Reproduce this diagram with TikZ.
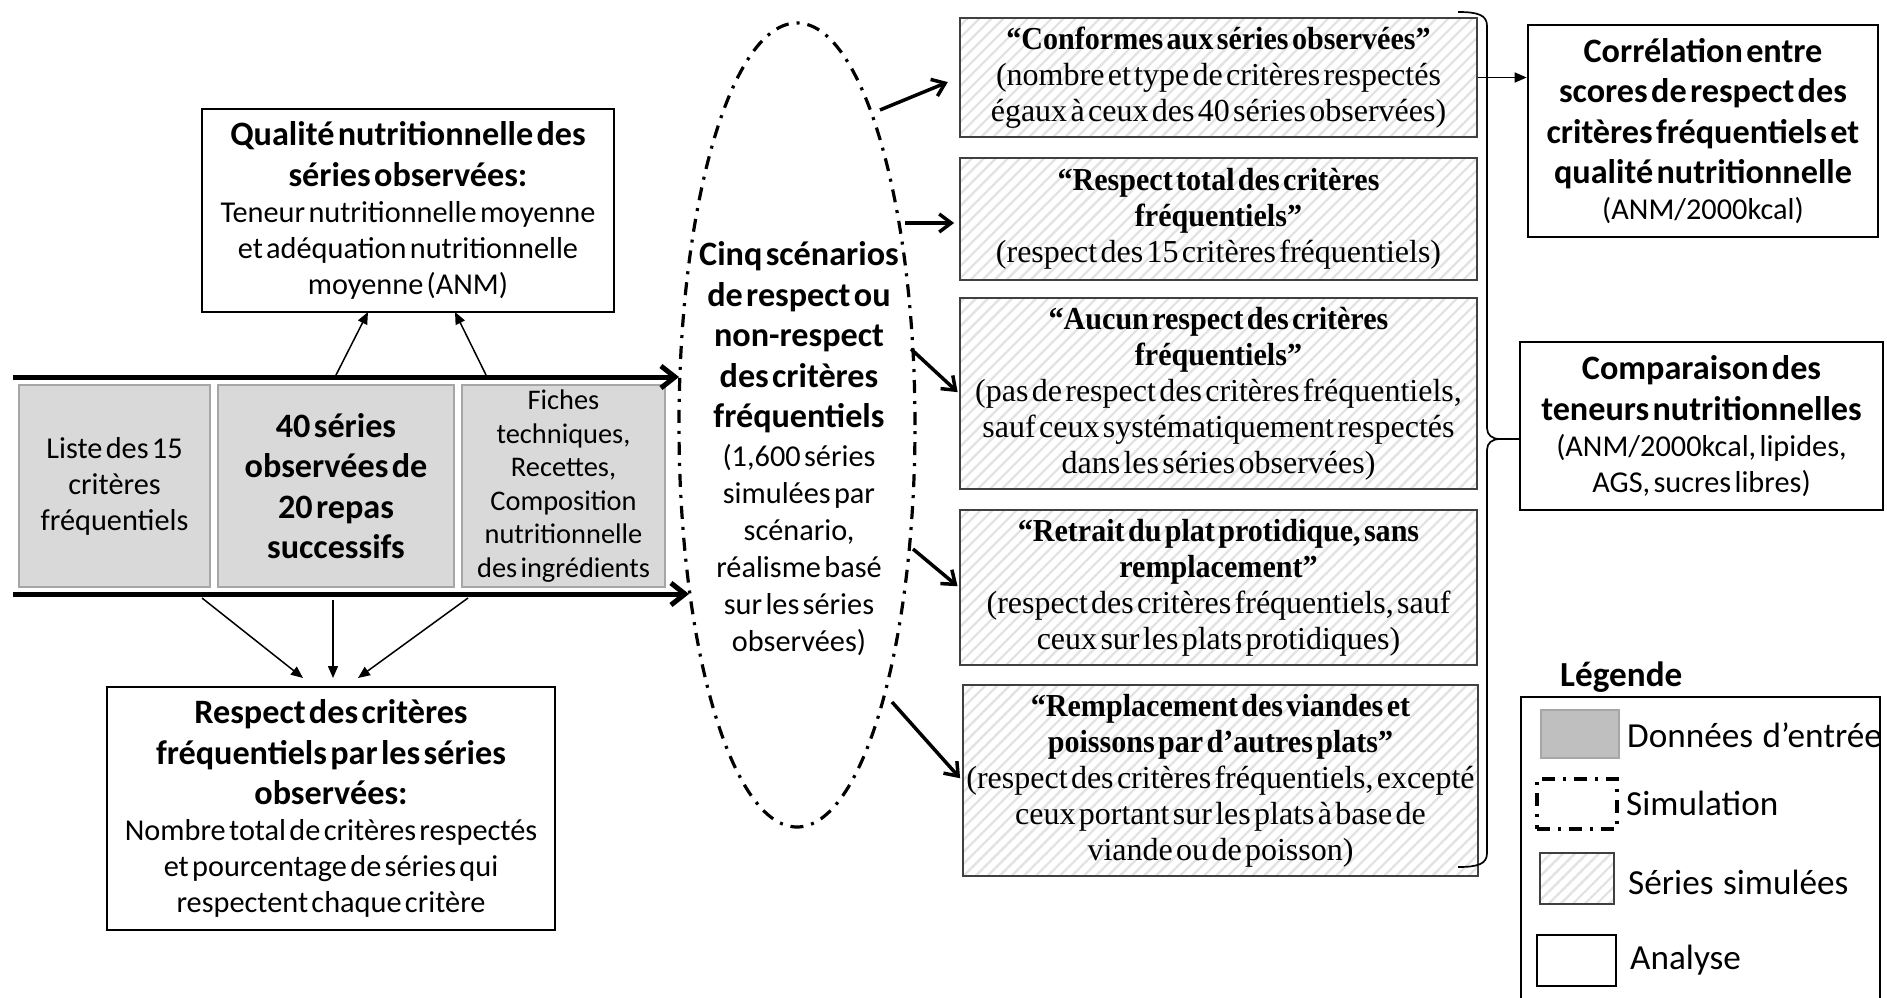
\documentclass[tikz,border=0pt]{standalone}
\usepackage{fontspec}
\setmainfont{Carlito}[WordSpace=1.2]
\newfontfamily\tnr{Liberation Serif}[FakeStretch=0.94]
\newfontfamily\tnrR{Liberation Serif}
\usetikzlibrary{arrows.meta,shapes.geometric,patterns.meta}
\definecolor{infill}{HTML}{D9D9D9}
\definecolor{inborder}{HTML}{A6A6A6}
\definecolor{legfill}{HTML}{BFBFBF}
\definecolor{hatch}{HTML}{E2E2E2}
\definecolor{scborder}{HTML}{404040}
\hyphenpenalty=10000 \exhyphenpenalty=10000
\setlength\parindent{0pt}
\newcommand\fBold{\fontsize{34.2}{40.5}\selectfont\bfseries}
\newcommand\fReg{\fontsize{30.3}{36}\selectfont}
\newcommand\fRegE{\fontsize{30.3}{37}\selectfont}
\newcommand\fSmall{\fontsize{28.4}{33.5}\selectfont}
\newcommand\fTb{\tnr\fontsize{32}{36}\selectfont\bfseries}
\newcommand\fTr{\tnrR\fontsize{32}{36}\selectfont}
\newcommand\fLeg{\fontsize{35.2}{40}\selectfont}
\begin{document}
\begin{tikzpicture}[x=1pt,y=-1pt,
  anbox/.style={draw=black, line width=2.6pt, fill=white, inner sep=0pt, align=center},
  inbox/.style={draw=inborder, fill=infill, line width=1.8pt, inner sep=0pt, align=center},
  scbox/.style={draw=scborder, line width=1.8pt, pattern={Lines[angle=45,distance=8.5pt,line width=2.2pt]}, pattern color=hatch, inner sep=0pt, align=center},
  thickarr/.style={line width=5pt, -{Straight Barb[length=14pt,width=22pt]}},
  scarr/.style={line width=3.5pt, -{Straight Barb[length=12pt,width=18pt]}},
  thinarr/.style={line width=1.5pt, -{Triangle[length=12pt,width=10pt]}},
  simline/.style={line width=3.2pt, dash pattern=on 13pt off 8pt on 3pt off 8pt},
  legtext/.style={anchor=west, inner sep=0pt, font=\fLeg}
]
\useasboundingbox (0,0) rectangle (1887,998);
\fill[white] (0,0) rectangle (1887,998);

% analysis box: quality
\node[anbox, minimum width=412pt, minimum height=203pt, text width=408pt] (qual) at (408,210.5)
 {{\fBold Qualité nutritionnelle des\\séries observées:\par}{\fReg Teneur nutritionnelle moyenne\\et adéquation nutritionnelle\\moyenne (ANM)\par}};

% input boxes
\node[inbox, minimum width=191pt, minimum height=202pt, text width=187pt] (g1) at (114.5,486)
 {{\fReg Liste des 15\\critères\\fréquentiels\par}};
\node[inbox, minimum width=236pt, minimum height=202pt, text width=232pt] (g2) at (336,486)
 {{\fBold 40 séries\\observées de\\20 repas\\successifs\par}};
\node[inbox, minimum width=203pt, minimum height=202pt, text width=200pt] (g3) at (563.5,486)
 {{\fSmall Fiches\\techniques,\\Recettes,\\Composition\\nutritionnelle\\des ingrédients\par}};

% analysis box: respect
\node[anbox, minimum width=448pt, minimum height=243pt, text width=446pt] (resp) at (331,808.5)
 {{\fBold Respect des critères\\fréquentiels par les séries\\observées:\par}{\fReg Nombre total de critères respectés\\et pourcentage de séries qui\\respectent chaque critère\par}};

% simulation ellipse
\node[ellipse, draw, simline, minimum width=236pt, minimum height=804pt, inner sep=0pt] (ell) at (797,425) {};
\node[text width=232pt, align=center, inner sep=0pt] (elltxt) at (799,449)
 {{\fBold Cinq scénarios\\de respect ou\\non-respect\\des critères\\fréquentiels\par}\vspace{2pt}{\fRegE (1,600 séries\\simulées par\\scénario,\\réalisme basé\\sur les séries\\observées)\par}};

% scenario boxes
\node[scbox, minimum width=517pt, minimum height=119pt, text width=513pt] (s1) at (1218.5,77.5)
 {{\fTb “Conformes aux séries observées”\par}{\fTr (nombre et type de critères respectés\\égaux à ceux des 40 séries observées)\par}};
\node[scbox, minimum width=517pt, minimum height=122pt, text width=513pt] (s2) at (1218.5,219)
 {{\fTb “Respect total des critères\\fréquentiels”\par}{\fTr (respect des 15 critères fréquentiels)\par}};
\node[scbox, minimum width=517pt, minimum height=191pt, text width=513pt] (s3) at (1218.5,393.5)
 {{\fTb “Aucun respect des critères\\fréquentiels”\par}{\fTr (pas de respect des critères fréquentiels,\\sauf ceux systématiquement respectés\\dans les séries observées)\par}};
\node[scbox, minimum width=517pt, minimum height=155pt, text width=513pt] (s4) at (1218.5,587.5)
 {{\fTb “Retrait du plat protidique, sans\\remplacement”\par}{\fTr (respect des critères fréquentiels, sauf\\ceux sur les plats protidiques)\par}};
\node[scbox, minimum width=515pt, minimum height=191pt, text width=511pt] (s5) at (1220.5,780.5)
 {{\fTb “Remplacement des viandes et\\poissons par d’autres plats”\par}{\fTr (respect des critères fréquentiels, excepté\\ceux portant sur les plats à base de\\viande ou de poisson)\par}};

% result boxes
\node[anbox, minimum width=350pt, minimum height=212pt, text width=346pt] (corr) at (1703,131)
 {{\fBold Corrélation entre\\scores de respect des\\critères fréquentiels et\\qualité nutritionnelle\par}{\fReg (ANM/2000kcal)\par}};
\node[anbox, minimum width=363pt, minimum height=168pt, text width=359pt] (comp) at (1701.5,426)
 {{\fBold Comparaison des\\teneurs nutritionnelles\par}{\fReg (ANM/2000kcal, lipides,\\AGS, sucres libres)\par}};

% thick arrows into the ellipse
\coordinate (lt) at (13,377);
\coordinate (et) at (679,377);
\coordinate (lb) at (13,594);
\coordinate (eb) at (689,594);
\draw[thickarr] (lt) -- (et);
\draw[thickarr] (lb) -- (eb);

% arrows to quality box
\coordinate (qa1) at (335,377);
\coordinate (qb1) at (368,312);
\coordinate (qa2) at (487,377);
\coordinate (qb2) at (455,312);
\draw[thinarr] (qa1) -- (qb1);
\draw[thinarr] (qa2) -- (qb2);

% arrows to respect box
\coordinate (ra1) at (202,598);
\coordinate (rb1) at (303,678);
\coordinate (ra2) at (333,600);
\coordinate (rb2) at (333,678);
\coordinate (ra3) at (468,598);
\coordinate (rb3) at (358,678);
\draw[thinarr] (ra1) -- (rb1);
\draw[thinarr] (ra2) -- (rb2);
\draw[thinarr] (ra3) -- (rb3);

% arrows from ellipse to scenarios
\coordinate (c1) at (880,110);
\coordinate (c2) at (905,223);
\coordinate (c3) at (911,349);
\coordinate (c4) at (913,549);
\coordinate (c5) at (892,702);
\draw[scarr, shorten >=12pt] (c1) -- (s1.west);
\draw[scarr, shorten >=5pt] (c2) -- (c2 -| s2.west);
\draw[scarr, shorten >=2pt] (c3) -- (s3.west);
\draw[scarr, shorten >=2pt] (c4) -- (s4.west);
\draw[scarr, shorten >=3pt] (c5) -- (s5.west);

% brace
\draw[line width=1.7pt] (1458,12) .. controls (1478,12) and (1487,15) .. (1487,26) -- (1487,428)
  .. controls (1487,435) and (1492,439) .. (1500,439)
  .. controls (1492,439) and (1487,443) .. (1487,450) -- (1487,853)
  .. controls (1487,864) and (1478,867) .. (1458,867);
\coordinate (btip) at (1500,439);
\draw[line width=1.7pt] (btip) -- (btip -| comp.west);

% arrow to correlation
\draw[thinarr] (s1.east) -- (s1.east -| corr.west);

% legend
\node[anchor=west, inner sep=0pt, font=\fLeg\bfseries] (legt) at (1560,677) {Légende};
\draw[line width=1.6pt] (1521,1005) -- (1521,697) -- (1880,697) -- (1880,1005);
\node[draw=inborder, fill=legfill, line width=1.5pt, minimum width=78pt, minimum height=48pt, inner sep=0pt] (lg1) at (1580,734) {};
\node[legtext] (lt1) at (1627,735) {Données d’entrée};
\node[draw, simline, minimum width=80pt, minimum height=50pt, inner sep=0pt] (lg2) at (1577,804) {};
\node[legtext] (lt2) at (1626,803) {Simulation};
\node[scbox, line width=1.5pt, minimum width=74pt, minimum height=51pt] (lg3) at (1577,878.5) {};
\node[legtext] (lt3) at (1628,882) {Séries simulées};
\node[draw, line width=2.8pt, minimum width=79pt, minimum height=51pt, inner sep=0pt] (lg4) at (1576.5,960.5) {};
\node[legtext] (lt4) at (1630,960) {Analyse};
\end{tikzpicture}
\end{document}
